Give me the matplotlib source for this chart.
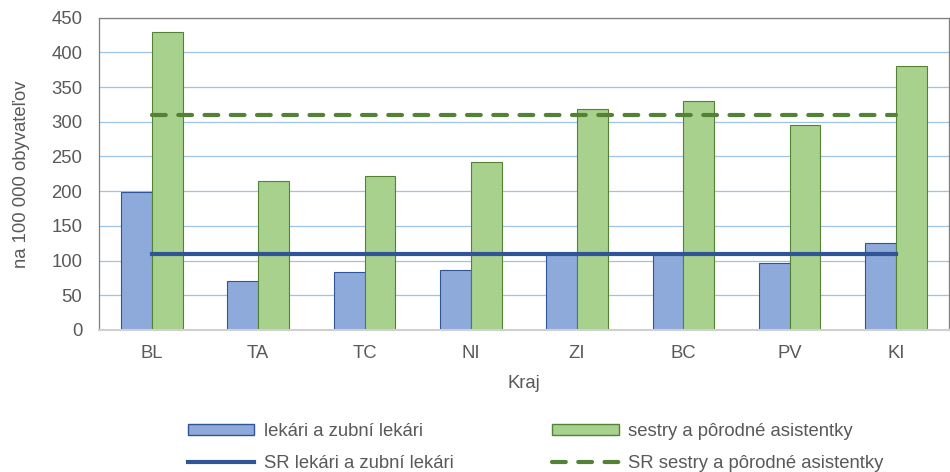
import numpy as np
import matplotlib
matplotlib.use("Agg")
import matplotlib.pyplot as plt
from matplotlib.patches import Patch
from matplotlib.lines import Line2D

plt.rcParams['font.family'] = ['Liberation Sans', 'DejaVu Sans']

kraje = ["BL", "TA", "TC", "NI", "ZI", "BC", "PV", "KI"]
lekari = [199, 71, 83, 87, 110, 110, 96, 126]
sestry = [429, 215, 222, 242, 318, 330, 295, 380]
sr_lekari = 110
sr_sestry = 310

fig = plt.figure(figsize=(9.5, 4.72), dpi=100)
ax = fig.add_axes([0.104, 0.301, 0.895, 0.6615])

x = np.arange(len(kraje))
w = 0.29
dash = (0, (3.3, 3.0))
ax.bar(x - w / 2, lekari, w, color="#8eaadb", edgecolor="#2f5597", linewidth=0.8, zorder=2)
ax.bar(x + w / 2, sestry, w, color="#a9d18e", edgecolor="#548235", linewidth=0.8, zorder=2)
ax.plot(x, [sr_lekari] * len(x), color="#2f5597", linewidth=3, zorder=3)
ax.plot(x, [sr_sestry] * len(x), color="#548235", linewidth=3, linestyle=dash,
        dash_capstyle="round", zorder=3)

fs = 13.3
ax.set_xlim(-0.5, len(kraje) - 0.5)
ax.set_ylim(0, 450)
ax.set_yticks(range(0, 451, 50))
ax.set_xticks(x)
ax.set_xticklabels(kraje)
ax.yaxis.grid(True, color="#9dc3e6", linewidth=0.9, zorder=0)
ax.set_axisbelow(True)
ax.tick_params(length=0, labelsize=fs, colors="#595959")
ax.tick_params(axis="x", pad=10.5)
ax.tick_params(axis="y", pad=12)
for s in ["top", "left", "right"]:
    ax.spines[s].set_color("#7f7f7f")
    ax.spines[s].set_linewidth(0.9)
ax.spines["bottom"].set_color("#d0d0d0")
ax.spines["bottom"].set_linewidth(1.5)

ax.set_xlabel("Kraj", fontsize=fs, color="#595959", labelpad=10)
ax.set_ylabel("na 100 000 obyvateľov", fontsize=fs, color="#595959", labelpad=15)

handles = [
    Patch(facecolor="#8eaadb", edgecolor="#2f5597", label="lekári a zubní lekári"),
    Line2D([], [], color="#2f5597", linewidth=3, label="SR lekári a zubní lekári"),
    Patch(facecolor="#a9d18e", edgecolor="#548235", label="sestry a pôrodné asistentky"),
    Line2D([], [], color="#548235", linewidth=3, linestyle=dash, dash_capstyle="round",
           label="SR sestry a pôrodné asistentky"),
]
fig.legend(handles=handles, ncol=2, loc="center", bbox_to_anchor=(0.5637, 0.052),
           frameon=False, fontsize=fs, handlelength=3.6, handleheight=0.55,
           columnspacing=5.35, labelspacing=0.8, handletextpad=0.5, labelcolor="#595959")

fig.savefig("out.png", dpi=100)
